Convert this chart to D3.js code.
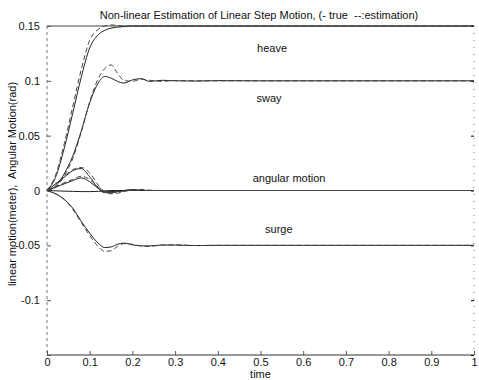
<!DOCTYPE html>
<html>
<head>
<meta charset="utf-8">
<script src="https://cdn.jsdelivr.net/npm/d3@7"></script>
<style>
  body { margin: 0; background: #fff; }
  svg text { font-family: "Liberation Sans", Arial, sans-serif; fill: #111; }
</style>
</head>
<body>
<svg id="chart" width="479" height="380"></svg>
<script>
// time samples shared by every series
var time = [0, 0.02, 0.04, 0.06, 0.08, 0.10, 0.12, 0.135, 0.15, 0.165, 0.18, 0.20,
  0.22, 0.24, 0.27, 0.30, 0.35, 0.40, 0.5, 0.6, 0.7, 0.8, 0.9, 1.0];

// heave
var heaveTrue = [0, 0.012, 0.038, 0.070, 0.103, 0.130, 0.142, 0.146, 0.148, 0.149, 0.1495, 0.150,
  0.150, 0.150, 0.150, 0.150, 0.150, 0.150, 0.150, 0.150, 0.150, 0.150, 0.150, 0.150];
var heaveEst = [0, 0.014, 0.042, 0.076, 0.110, 0.137, 0.147, 0.150, 0.151, 0.1505, 0.150, 0.150,
  0.150, 0.150, 0.150, 0.150, 0.150, 0.150, 0.150, 0.150, 0.150, 0.150, 0.150, 0.150];
// sway
var swayTrue = [0, 0.004, 0.015, 0.031, 0.054, 0.080, 0.098, 0.104, 0.1025, 0.0995, 0.098, 0.1008,
  0.102, 0.0995, 0.1005, 0.100, 0.0998, 0.1002, 0.100, 0.100, 0.100, 0.100, 0.100, 0.100];
var swayEst = [0, 0.003, 0.013, 0.029, 0.053, 0.081, 0.102, 0.111, 0.1145, 0.107, 0.1005, 0.0995,
  0.1015, 0.1005, 0.0995, 0.1003, 0.100, 0.100, 0.100, 0.100, 0.100, 0.100, 0.100, 0.100];
// angular motion (three components)
var ang1True = [0, 0.006, 0.012, 0.018, 0.020, 0.0125, 0.002, -0.002, -0.002, -0.001, 0, 0.0008,
  0.0003, 0, 0, 0, 0, 0, 0, 0, 0, 0, 0, 0];
var ang1Est = [0, 0.006, 0.013, 0.019, 0.021, 0.016, 0.005, -0.001, -0.003, -0.0025, -0.001, 0.0005,
  0.001, 0.0003, 0, 0, 0, 0, 0, 0, 0, 0, 0, 0];
var ang2True = [0, 0.003, 0.006, 0.009, 0.0115, 0.008, 0.002, -0.001, -0.001, -0.0005, 0, 0.0003,
  0, 0, 0, 0, 0, 0, 0, 0, 0, 0, 0, 0];
var ang2Est = [0, 0.003, 0.007, 0.010, 0.013, 0.010, 0.003, -0.0005, -0.002, -0.0015, -0.0005, 0.0003,
  0, 0, 0, 0, 0, 0, 0, 0, 0, 0, 0, 0];
var ang3True = [0, -0.0003, -0.0006, -0.0008, -0.001, -0.001, -0.0008, -0.0004, 0, 0, 0, 0,
  0, 0, 0, 0, 0, 0, 0, 0, 0, 0, 0, 0];
// surge
var surgeTrue = [0, -0.003, -0.008, -0.016, -0.028, -0.039, -0.048, -0.052, -0.0515, -0.049, -0.048, -0.0495,
  -0.0505, -0.0505, -0.0497, -0.0498, -0.0502, -0.050, -0.050, -0.050, -0.050, -0.050, -0.050, -0.050];
var surgeEst = [0, -0.003, -0.008, -0.017, -0.029, -0.041, -0.051, -0.0555, -0.055, -0.051, -0.0485, -0.049,
  -0.0505, -0.051, -0.0497, -0.0495, -0.0502, -0.050, -0.050, -0.050, -0.050, -0.050, -0.050, -0.050];

var xTicks = [0, 0.1, 0.2, 0.3, 0.4, 0.5, 0.6, 0.7, 0.8, 0.9, 1];
var xTickLabels = ["0", "0.1", "0.2", "0.3", "0.4", "0.5", "0.6", "0.7", "0.8", "0.9", "1"];
var yTicks = [0.15, 0.1, 0.05, 0, -0.05, -0.1, -0.15];
var yTickLabels = ["0.15", "0.1", "0.05", "0", "-0.05", "-0.1", ""];

var curveNames = ["heave", "sway", "angular motion", "surge"];
var curveLabelAt = [[0.527, 0.126], [0.52, 0.081], [0.567, 0.008], [0.543, -0.039]];

var svg = d3.select("#chart");
var x = d3.scaleLinear().domain([0, 1]).range([47, 474]);
var y = d3.scaleLinear().domain([-0.15, 0.15]).range([355, 26]);

// frame: scanned look, dashed grey sides
var frame = svg.append("g").attr("stroke", "#777").attr("fill", "none");
frame.append("line").attr("x1", x(0)).attr("x2", x(0)).attr("y1", y(0.15)).attr("y2", y(-0.15))
  .attr("stroke-dasharray", "3,3");
frame.append("line").attr("x1", x(1)).attr("x2", x(1)).attr("y1", y(0.15)).attr("y2", y(-0.15))
  .attr("stroke-dasharray", "1,6");
frame.append("line").attr("x1", x(0)).attr("x2", x(1)).attr("y1", y(-0.15)).attr("y2", y(-0.15))
  .attr("stroke", "#333");
frame.append("line").attr("x1", x(0)).attr("x2", x(1)).attr("y1", y(0.15)).attr("y2", y(0.15))
  .attr("stroke", "#444");

// axes with inward ticks
var xAxis = d3.axisBottom(x).tickValues(xTicks).tickSize(-4).tickPadding(3)
  .tickFormat(function (d, i) { return xTickLabels[i]; });
var gx = svg.append("g").attr("transform", "translate(0," + y(-0.15) + ")").call(xAxis);
var yAxis = d3.axisLeft(y).tickValues(yTicks).tickSize(-4).tickPadding(7)
  .tickFormat(function (d, i) { return yTickLabels[i]; });
var gy = svg.append("g").attr("transform", "translate(" + x(0) + ",0)").call(yAxis);
svg.append("g").attr("transform", "translate(" + x(1) + ",0)")
  .call(d3.axisRight(y).tickValues(yTicks).tickSize(-3).tickFormat(""));
[gx, gy].forEach(function (g) {
  g.selectAll(".tick line").attr("stroke", "#555");
  g.selectAll("text").style("font-size", "11px").style("font-family", "Liberation Sans, Arial, sans-serif");
});
svg.selectAll(".domain").remove();

// series
var line = d3.line()
  .x(function (d) { return x(d[0]); })
  .y(function (d) { return y(d[1]); })
  .curve(d3.curveMonotoneX);
function pairs(vals) { return time.map(function (t, i) { return [t, vals[i]]; }); }

var solid = [heaveTrue, swayTrue, ang1True, ang2True, ang3True, surgeTrue];
var dashed = [heaveEst, swayEst, ang1Est, ang2Est, surgeEst];
var plot = svg.append("g").attr("fill", "none");
solid.forEach(function (s) {
  plot.append("path").attr("d", line(pairs(s))).attr("stroke", "#222").attr("stroke-width", 1);
});
dashed.forEach(function (s) {
  plot.append("path").attr("d", line(pairs(s))).attr("stroke", "#444").attr("stroke-width", 1)
    .attr("stroke-dasharray", "5,3");
});

// curve labels
curveNames.forEach(function (name, i) {
  svg.append("text").text(name)
    .attr("x", x(curveLabelAt[i][0])).attr("y", y(curveLabelAt[i][1]))
    .attr("text-anchor", "middle").style("font-size", "11px");
});

// titles
svg.append("text").text("Non-linear Estimation of Linear Step Motion, (- true  --:estimation)")
  .attr("x", 259).attr("y", 19).attr("text-anchor", "middle").style("font-size", "11px")
  .style("white-space", "pre");
svg.append("text").text("time").attr("x", x(0.5)).attr("y", 378)
  .attr("text-anchor", "middle").style("font-size", "11px");
svg.append("text").text("linear motion(meter),  Angular Motion(rad)")
  .attr("transform", "translate(16,184) rotate(-90)")
  .attr("text-anchor", "middle").style("font-size", "11px").style("white-space", "pre");
</script>
</body>
</html>
